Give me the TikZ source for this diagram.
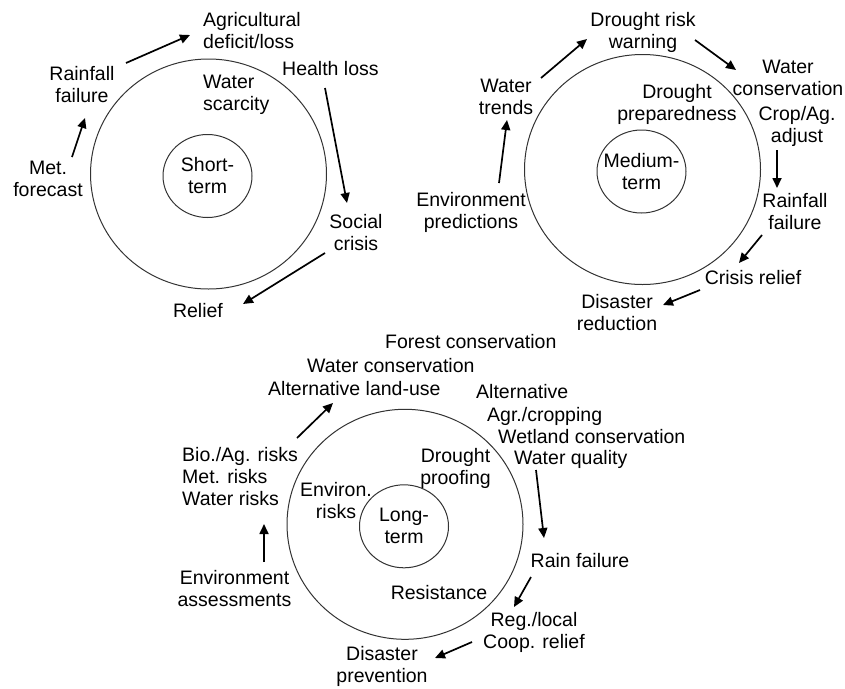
\documentclass[tikz,border=0pt]{standalone}
\usepackage{fontspec}
\setmainfont{Liberation Sans}
\usetikzlibrary{calc,arrows.meta,shapes.geometric}

\begin{document}
\begin{tikzpicture}[x=1pt, y=-1pt,
    font=\fontsize{19.5}{22}\selectfont,
    txt/.style={inner sep=1pt, align=center},
    ltxt/.style={inner sep=1pt, align=left, anchor=west},
    ring/.style={draw=black!80, ellipse, line width=1pt, inner sep=0pt},
    flow/.style={-{Triangle[length=10pt,width=9pt]}, line width=1.7pt}]
\useasboundingbox (0,0) rectangle (845,688);
% Variables: 1 := centre, 2 := ID, 3 := inner label.
\def\horizon(#1)#2#3{
    \node[ring, minimum width=236pt, minimum height=230pt] (#2 OUT) at (#1) {};
    \node[ring, minimum width=89pt, minimum height=83pt] (#2 IN) at ($ (#1) + (-1,2) $) {};
    \node[txt] (#2 TERM) at (#2 IN) {#3};
}
\horizon(208.5,174){S}{Short-\\term}
\horizon(642.5,169.5){M}{Medium-\\term}
\horizon(405,524.3){L}{Long-\\term}

% short-term
\node[txt] (MET) at (48,179) {Met.\\forecast};
\node[txt] (RAIN1) at (82,85) {Rainfall\\failure};
\node[ltxt] (AGRI) at (202,31) {Agricultural\\deficit/loss};
\node[ltxt] (SCARCE) at (202,95) {Water\\scarcity};
\node[ltxt] (HEALTH) at (281,69) {Health loss};
\node[txt] (SOCIAL) at (356,233) {Social\\crisis};
\node[txt] (RELIEF) at (198,311) {Relief};
\draw[flow] ($ (MET) + (24,-22) $) -- ($ (RAIN1) + (3,33) $);
\draw[flow] ($ (RAIN1) + (44,-22) $) -- ($ (AGRI.west) + (-12,4) $);
\draw[flow] ($ (HEALTH.west) + (44,19) $) -- ($ (SOCIAL) + (-9,-30) $);
\draw[flow] ($ (SOCIAL) + (-31,20) $) -- ($ (RELIEF) + (45,-7) $);

% medium-term
\node[txt] (PREPARE) at (677,104) {Drought\\preparedness};
\node[txt] (WARN) at (643,32) {Drought risk\\warning};
\node[txt] (WATERCONS) at (788,78) {Water\\conservation};
\node[txt] (CROPAG) at (797,126) {Crop/Ag.\\adjust};
\node[txt] (TRENDS) at (506,97) {Water\\trends};
\node[txt] (PREDICT) at (471,212) {Environment\\predictions};
\node[txt] (RAIN2) at (795,212) {Rainfall\\failure};
\node[txt] (CRISIS) at (753,278) {Crisis relief};
\node[txt] (REDUCE) at (617,313) {Disaster\\reduction};
\draw[flow] ($ (PREDICT) + (28,-29) $) -- ($ (TRENDS) + (1,23) $);
\draw[flow] ($ (TRENDS) + (35,-19) $) -- ($ (WARN) + (-56,7) $);
\draw[flow] ($ (WARN) + (52,8) $) -- ($ (WATERCONS) + (-52,-8) $);
\draw[flow] ($ (CROPAG) + (-20,24) $) -- ($ (RAIN2) + (-18,-24) $);
\draw[flow] ($ (RAIN2) + (-33,23) $) -- ($ (CRISIS) + (-14,-15) $);
\draw[flow] ($ (CRISIS) + (-53,12) $) -- ($ (REDUCE) + (46,-8) $);

% long-term
\node[txt] (ENVRISK) at (336,501) {Environ.\\risks};
\node[txt] (PROOF) at (455.5,468) {Drought\\proofing};
\node[txt] (RESIST) at (439,593) {Resistance};
\node[ltxt] (FOREST) at (384,342) {Forest conservation};
\node[ltxt] (WATERCONS2) at (306,366) {Water conservation};
\node[ltxt] (LANDUSE) at (267,389) {Alternative land-use};
\node[ltxt] (ALTAGR) at (475,392) {Alternative};
\node[ltxt] (CROPPING) at (486,416) {Agr./cropping};
\node[ltxt] (WETLAND) at (497,437) {Wetland conservation};
\node[ltxt] (QUALITY) at (513,459) {Water quality};
\node[ltxt] (RISKS) at (181,477) {Bio./Ag. risks\\Met. risks\\Water risks};
\node[txt] (ASSESS) at (234.5,589) {Environment\\assessments};
\node[txt] (RAIN3) at (580,561) {Rain failure};
\node[txt] (REGLOCAL) at (534,632) {Reg./local\\Coop. relief};
\node[txt] (PREVENT) at (382,666) {Disaster\\prevention};
\draw[flow] ($ (ASSESS) + (29.5,-27) $) -- ($ (RISKS.west) + (83,47) $);
\draw[flow] ($ (RISKS.west) + (116,-39) $) -- ($ (LANDUSE.west) + (66,14) $);
\draw[flow] ($ (QUALITY.west) + (23,11) $) -- ($ (RAIN3) + (-36,-23) $);
\draw[flow] ($ (RAIN3) + (-49,16) $) -- ($ (REGLOCAL) + (-20,-25) $);
\draw[flow] ($ (REGLOCAL) + (-62,10) $) -- ($ (PREVENT) + (53,-8) $);
\end{tikzpicture}
\end{document}
